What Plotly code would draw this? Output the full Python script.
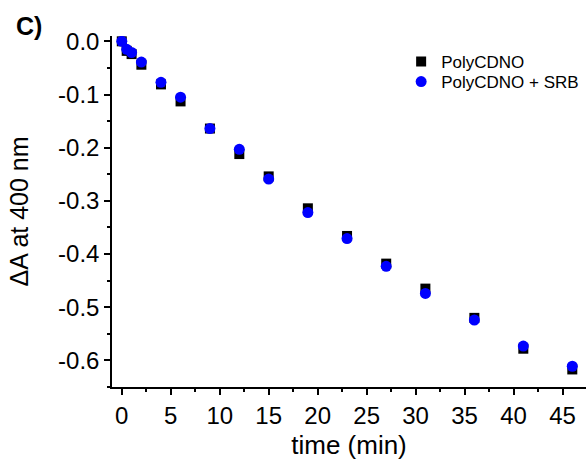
import plotly.graph_objects as go

# Data
time_poly = [0, 0.5, 1, 2, 4, 6, 9, 12, 15, 19, 23, 27, 31, 36, 41, 46]
dA_poly = [0.0, -0.018, -0.024, -0.044, -0.081, -0.113, -0.164, -0.212, -0.254,
           -0.314, -0.366, -0.418, -0.465, -0.520, -0.578, -0.617]
time_srb = [0, 0.5, 1, 2, 4, 6, 9, 12, 15, 19, 23, 27, 31, 36, 41, 46]
dA_srb = [0.0, -0.015, -0.021, -0.039, -0.077, -0.105, -0.164, -0.203, -0.259,
          -0.322, -0.371, -0.423, -0.474, -0.524, -0.573, -0.611]

y_tickvals = [0.0, -0.1, -0.2, -0.3, -0.4, -0.5, -0.6]
y_ticktext = ["0.0", "-0.1", "-0.2", "-0.3", "-0.4", "-0.5", "-0.6"]
x_tickvals = [0, 5, 10, 15, 20, 25, 30, 35, 40, 45]

FONT = "Liberation Sans, Arial, sans-serif"

fig = go.Figure()
fig.add_trace(go.Scatter(
    x=time_poly, y=dA_poly, mode="markers", name="PolyCDNO", legend="legend",
    marker=dict(symbol="square", size=10, color="black", line=dict(width=0)),
))
fig.add_trace(go.Scatter(
    x=time_srb, y=dA_srb, mode="markers", name="PolyCDNO + SRB", legend="legend2",
    marker=dict(symbol="circle", size=11, color="#0000ff", line=dict(width=0)),
))

axis_common = dict(
    showgrid=False, zeroline=False, showline=True, linecolor="black", linewidth=1.5,
    ticks="outside", ticklen=6, tickwidth=1.5, tickcolor="black",
    tickfont=dict(family=FONT, size=24, color="black"),
)

fig.update_xaxes(
    range=[-1, 47.4], tickvals=x_tickvals,
    minor=dict(ticks="outside", ticklen=3, tickwidth=1.5, tickcolor="black", dtick=2.5, tick0=0),
    title=dict(text="time (min)", font=dict(family=FONT, size=26, color="black"), standoff=8),
    **axis_common,
)
fig.update_yaxes(
    range=[-0.65, 0.01], tickvals=y_tickvals, ticktext=y_ticktext,
    minor=dict(ticks="outside", ticklen=3, tickwidth=1.5, tickcolor="black", dtick=0.05, tick0=0),
    title=dict(text="ΔA at 400 nm", font=dict(family=FONT, size=25, color="black"), standoff=22),
    **axis_common,
)

leg_common = dict(
    xanchor="left", yanchor="top",
    font=dict(family=FONT, size=17, color="black"),
    bgcolor="rgba(0,0,0,0)", itemsizing="trace",
)

fig.update_layout(
    width=586, height=468,
    margin=dict(l=112, r=0, t=36, b=81),
    paper_bgcolor="white", plot_bgcolor="white",
    showlegend=True,
    legend=dict(x=0.61, y=(387 - 44) / 351, **leg_common),
    legend2=dict(x=0.61, y=(387 - 64) / 351, **leg_common),
    annotations=[dict(
        text="<b>C)</b>", xref="paper", yref="paper",
        x=(14 - 112) / 474, y=1 + (36 - 10) / 351, xanchor="left", yanchor="top",
        showarrow=False, font=dict(family=FONT, size=25, color="black"),
    )],
)

fig.write_html("out.html")
